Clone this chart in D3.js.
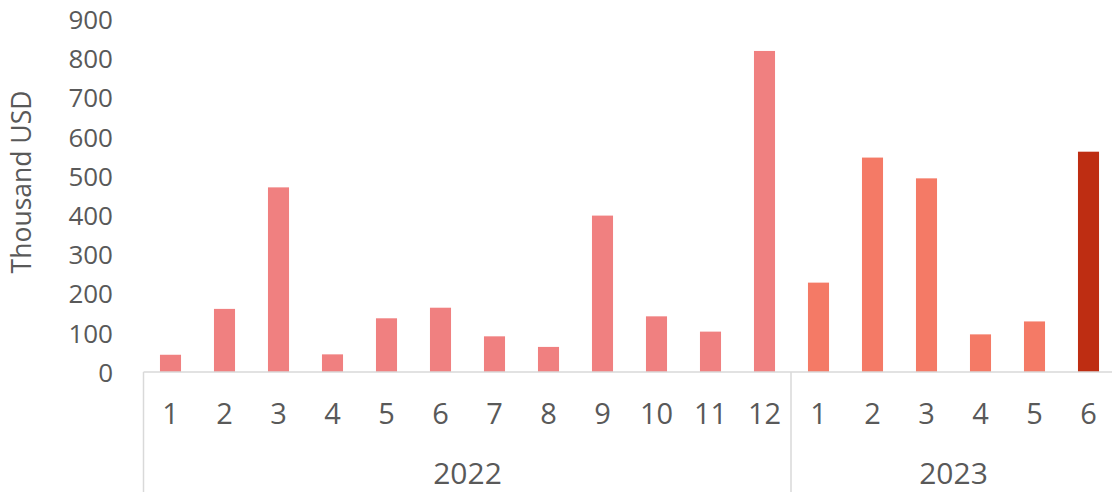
<!DOCTYPE html>
<html><head><meta charset="utf-8">
<script src="https://cdn.jsdelivr.net/npm/d3@7"></script>
<style>html,body{margin:0;padding:0;background:#fff;}svg{display:block;}</style>
</head><body>
<svg id="chart" width="1112" height="492"></svg>
<script>
const years = ["2022", "2023"];
const months2022 = ["1","2","3","4","5","6","7","8","9","10","11","12"];
const months2023 = ["1","2","3","4","5","6"];
const values2022 = [44, 161, 471, 45, 137, 164, 91, 64, 399, 142, 103, 819];
const values2023 = [228, 547, 494, 96, 129, 562];
const yTicks = [0,100,200,300,400,500,600,700,800,900];
const yTitle = "Thousand USD";

const data = [];
months2022.forEach((m,i)=>data.push({key:"2022-"+m, year:"2022", month:m, value:values2022[i]}));
months2023.forEach((m,i)=>data.push({key:"2023-"+m, year:"2023", month:m, value:values2023[i]}));

const svg = d3.select("#chart");
const left = 143.5, right = 1115.5, y0 = 372, yTop = 19.2;
const font = "'Open Sans', 'Segoe UI', sans-serif";
const txt = "#595959";

const x = d3.scaleBand().domain(data.map(d=>d.key)).range([left, right]).paddingInner(0.61).paddingOuter(0.305);
const y = d3.scaleLinear().domain([0, 900]).range([y0, yTop]);

function color(d, i){
  if (i === data.length-1) return "#BE2D12";
  return d.year === "2022" ? "#F08080" : "#F47A66";
}

// bars
svg.append("g").selectAll("rect").data(data).join("rect")
  .attr("x", d=>x(d.key)).attr("width", x.bandwidth())
  .attr("y", d=>y(d.value)).attr("height", d=>y(0)-y(d.value))
  .attr("fill", (d,i)=>color(d,i));

// y axis (labels only)
const yAxis = d3.axisLeft(y).tickValues(yTicks).tickSize(0).tickPadding(0);
const gy = svg.append("g").attr("transform", "translate(113,1)").call(yAxis);
gy.select(".domain").remove();
gy.selectAll("text").attr("font-family", font).attr("font-size", 26).attr("fill", txt);

// category axis
const gx = svg.append("g");
gx.append("line").attr("x1", left).attr("x2", 1112).attr("y1", y0).attr("y2", y0)
  .attr("stroke", "#d9d9d9").attr("stroke-width", 1.5);
const bounds = [left, x("2023-1") - x.step()*x.paddingInner()/2 - 0.5];
bounds.forEach(bx=>{
  gx.append("line").attr("x1", bx).attr("x2", bx).attr("y1", y0).attr("y2", 492)
    .attr("stroke", "#d9d9d9").attr("stroke-width", 1.5);
});
const xAxis = d3.axisBottom(x).tickFormat(k => k.split("-")[1]).tickSize(0).tickPadding(0);
const gxa = svg.append("g").attr("transform", `translate(0,${y0+42})`).call(xAxis);
gxa.select(".domain").remove();
gxa.selectAll("text").attr("font-family", font).attr("font-size", 29).attr("fill", txt).attr("dy", "0.35em");

years.forEach(yr=>{
  const keys = data.filter(d=>d.year===yr).map(d=>d.key);
  const cx = (x(keys[0]) + x(keys[keys.length-1]) + x.bandwidth())/2;
  svg.append("text").attr("x", cx).attr("y", 473).attr("dy","0.35em")
    .attr("text-anchor","middle").attr("font-family", font).attr("font-size", 30).attr("fill", txt)
    .text(yr);
});

svg.append("text").attr("transform", "translate(22,182) rotate(-90)")
  .attr("text-anchor","middle").attr("dy","0.35em")
  .attr("font-family", font).attr("font-size", 26.5).attr("fill", txt).text(yTitle);
</script>
</body></html>
